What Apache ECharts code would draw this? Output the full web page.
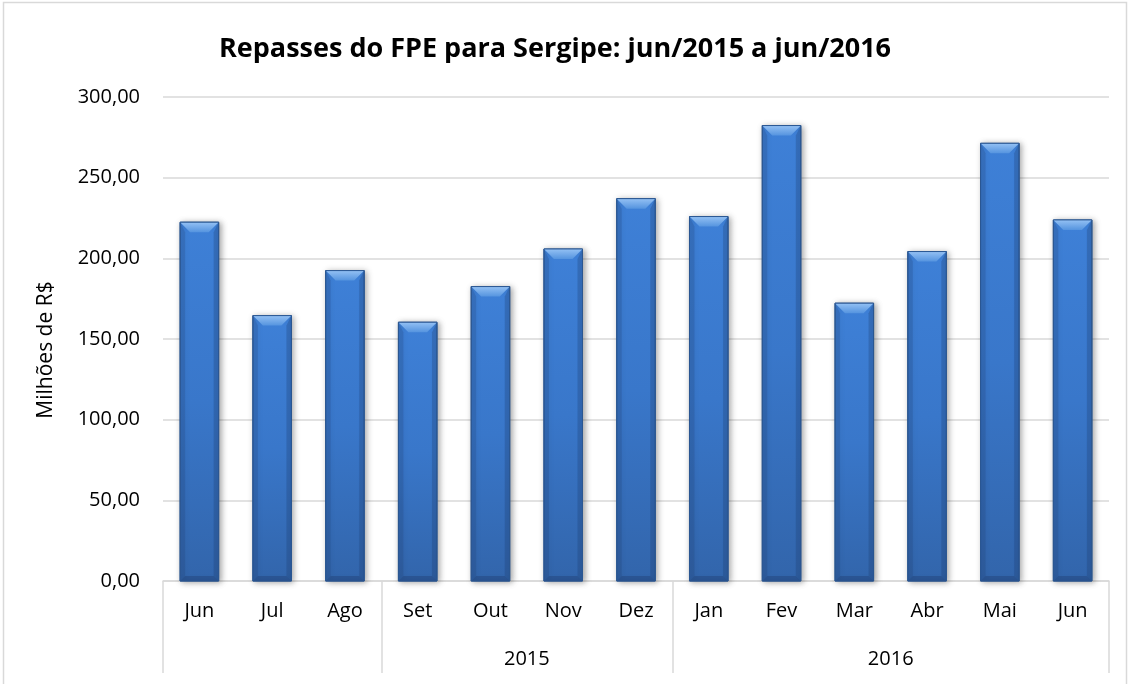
<!DOCTYPE html>
<html>
<head>
<meta charset="utf-8">
<script src="https://cdn.jsdelivr.net/npm/echarts@6/dist/echarts.min.js"></script>
<style>
html,body{margin:0;padding:0;background:#fff;}
#chart{width:1130px;height:684px;}
</style>
</head>
<body>
<div id="chart"></div>
<script>
// ---- data ----
const titleText = 'Repasses do FPE para Sergipe: jun/2015 a jun/2016';
const yAxisTitle = 'Milhões de R$';
const months = ['Jun','Jul','Ago','Set','Out','Nov','Dez','Jan','Fev','Mar','Abr','Mai','Jun'];
const values = [222.4, 164.5, 192.4, 160.4, 182.5, 205.8, 237.0, 225.9, 282.3, 172.2, 204.2, 271.3, 223.8];
const yearNames = ['', '2015', '2016'];
const yearStarts = [0, 3, 7];
const yearEnds = [3, 7, 13];
const yMin = 0, yMax = 300, yStep = 50;

const FONT = 'Open Sans';
const chart = echarts.init(document.getElementById('chart'));

function fmtNum(v){ return v.toFixed(2).replace('.', ','); }

const barData = values.map((v, i) => [i, v]);

function renderBar(params, api){
  const i = api.value(0), v = api.value(1);
  const top = api.coord([i, v]);
  const base = api.coord([i, 0]);
  const bw = api.size([1, 0])[0] * 0.53;
  const x0 = top[0] - bw/2, x1 = top[0] + bw/2;
  const y0 = top[1], y1 = base[1];
  const b = 10;
  return {
    type: 'group',
    children: [
      { type:'rect', shape:{x:x0, y:y0, width:bw, height:y1-y0},
        style:{ fill: new echarts.graphic.LinearGradient(0,0,0,1,[
          {offset:0,color:'#3e80d7'},{offset:0.5,color:'#3977ca'},{offset:1,color:'#3265ab'}]),
          stroke:'#2b5792', lineWidth:1,
          shadowBlur:6, shadowColor:'rgba(0,0,0,0.35)', shadowOffsetX:2, shadowOffsetY:1 } },
      // left bevel
      { type:'polygon', shape:{points:[[x0,y0],[x0+b*0.5,y0+b],[x0+b*0.5,y1-b*0.5],[x0,y1]]},
        style:{ fill:'rgba(30,60,110,0.2)' } },
      // right bevel
      { type:'polygon', shape:{points:[[x1,y0],[x1-b*0.5,y0+b],[x1-b*0.5,y1-b*0.5],[x1,y1]]},
        style:{ fill:'rgba(30,60,110,0.28)' } },
      // top bevel
      { type:'polygon', shape:{points:[[x0,y0],[x1,y0],[x1-b,y0+b],[x0+b,y0+b]]},
        style:{ fill: new echarts.graphic.LinearGradient(0,0,0,1,[
          {offset:0,color:'#94c1f4'},{offset:1,color:'#5594df'}]) } },
      // bottom bevel
      { type:'polygon', shape:{points:[[x0+b*0.5,y1-b*0.5],[x1-b*0.5,y1-b*0.5],[x1,y1],[x0,y1]]},
        style:{ fill:'rgba(25,50,95,0.3)' } },
      { type:'rect', shape:{x:x0, y:y0, width:bw, height:y1-y0},
        style:{ fill:'none', stroke:'#2b5792', lineWidth:1 } }
    ]
  };
}

const option = {
  backgroundColor: '#ffffff',
  animation: false,
  title: {
    text: titleText,
    left: 214,
    top: 31,
    textStyle: { fontFamily: FONT, fontWeight: 'bold', fontSize: 27, color: '#000' }
  },
  grid: { left: 163, right: 21, top: 97, bottom: 103, containLabel: false },
  xAxis: [
    {
      type: 'category',
      data: months,
      position: 'bottom',
      axisLine: { show: true, lineStyle: { color: '#d9d9d9', width: 1.5 } },
      axisTick: {
        show: true,
        length: 92,
        interval: function(index){ return yearStarts.indexOf(index) >= 0; },
        lineStyle: { color: '#d9d9d9', width: 1.5 }
      },
      axisLabel: { margin: 20, fontFamily: FONT, fontSize: 20, color: '#000' },
      splitLine: { show: false }
    },
    {
      type: 'value',
      min: 0,
      max: months.length,
      interval: 5,
      position: 'bottom',
      axisLine: { show: false },
      axisTick: { show: false },
      splitLine: { show: false },
      axisLabel: {
        margin: 68,
        fontFamily: FONT, fontSize: 20, color: '#000',
        showMinLabel: true, showMaxLabel: true,
        formatter: function(v){
          for (let k = 0; k < yearNames.length; k++) {
            if ((yearStarts[k] + yearEnds[k]) / 2 === v) return yearNames[k];
          }
          return '';
        }
      }
    }
  ],
  yAxis: {
    type: 'value',
    min: yMin, max: yMax, interval: yStep,
    name: yAxisTitle,
    nameLocation: 'middle',
    nameRotate: 90,
    nameGap: 106,
    nameTextStyle: { fontFamily: FONT, fontSize: 21, color: '#000', padding: [0, 22, 0, 0] },
    axisLine: { show: false },
    axisTick: { show: false },
    splitLine: { lineStyle: { color: '#d9d9d9', width: 1.5 } },
    axisLabel: { margin: 23, fontFamily: FONT, fontSize: 20, color: '#000', formatter: fmtNum }
  },
  graphic: [
    { type:'rect', silent:true, z:-1, shape:{x:3.5, y:2.5, width:1123, height:700},
      style:{ fill:'none', stroke:'#d9d9d9', lineWidth:1.5 } }
  ],
  series: [
    {
      type: 'custom',
      xAxisIndex: 0,
      yAxisIndex: 0,
      data: barData,
      encode: { x: 0, y: 1 },
      renderItem: renderBar
    }
  ]
};
chart.setOption(option);
</script>
</body>
</html>
